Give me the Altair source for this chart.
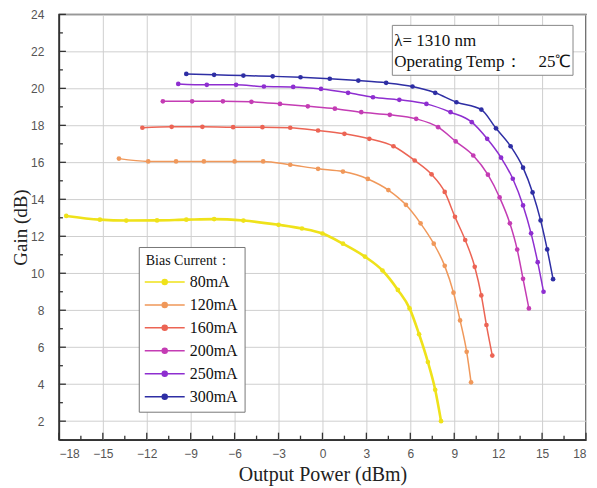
import altair as alt
import pandas as pd

currents = ["80mA", "120mA", "160mA", "200mA", "250mA", "300mA"]
colors = ["#efe21a", "#f0985a", "#ec6454", "#c43cb4", "#8e2ed0", "#2e2ea4"]

x_80 = [-17.5, -15.2, -13.4, -11.3, -9.3, -7.4, -5.4, -3.0, -1.4, 0.0, 1.4, 2.9, 4.1, 5.15, 5.95, 6.6, 7.2, 7.7, 8.1]
y_80 = [13.1, 12.9, 12.85, 12.86, 12.9, 12.93, 12.85, 12.62, 12.42, 12.15, 11.6, 10.9, 10.15, 9.1, 8.1, 6.7, 5.2, 3.7, 2.0]

x_120 = [-13.9, -11.9, -10.0, -8.1, -6.0, -4.05, -2.2, -0.3, 1.4, 3.1, 4.5, 5.7, 6.7, 7.6, 8.35, 8.95, 9.4, 9.85, 10.15]
y_120 = [16.2, 16.05, 16.05, 16.05, 16.05, 16.05, 15.87, 15.65, 15.5, 15.1, 14.5, 13.7, 12.7, 11.6, 10.4, 8.95, 7.45, 5.75, 4.1]

x_160 = [-12.3, -10.3, -8.2, -6.1, -4.1, -2.2, -0.3, 1.5, 3.2, 4.85, 6.3, 7.45, 8.35, 9.05, 9.75, 10.4, 10.85, 11.2, 11.6]
y_160 = [17.87, 17.92, 17.92, 17.9, 17.9, 17.87, 17.72, 17.54, 17.27, 16.87, 16.1, 15.35, 14.4, 13.05, 11.8, 10.35, 8.8, 7.2, 5.55]

x_200 = [-10.9, -8.9, -6.8, -4.85, -2.9, -1.0, 0.85, 2.65, 4.6, 6.4, 7.9, 9.1, 10.3, 11.3, 12.1, 12.8, 13.3, 13.7, 14.1]
y_200 = [19.3, 19.3, 19.3, 19.27, 19.16, 19.03, 18.9, 18.71, 18.57, 18.35, 17.9, 17.13, 16.37, 15.33, 14.1, 12.7, 11.28, 9.7, 8.1]

x_250 = [-9.85, -7.9, -5.9, -4.0, -2.0, -0.1, 1.75, 3.45, 5.25, 7.1, 8.75, 10.2, 11.25, 12.2, 13.0, 13.7, 14.25, 14.7, 15.1]
y_250 = [20.24, 20.19, 20.19, 20.1, 20.08, 19.97, 19.76, 19.52, 19.38, 19.16, 18.71, 18.17, 17.27, 16.25, 15.11, 13.67, 12.16, 10.6, 9.0]

x_300 = [-9.3, -7.4, -5.4, -3.4, -1.5, 0.5, 2.45, 4.35, 6.15, 7.7, 9.15, 10.85, 11.85, 12.85, 13.7, 14.35, 14.9, 15.35, 15.75]
y_300 = [20.78, 20.73, 20.69, 20.65, 20.6, 20.52, 20.42, 20.3, 20.1, 19.76, 19.25, 18.85, 17.84, 16.87, 15.71, 14.37, 12.86, 11.29, 9.68]

x_ticks = [-18, -15, -12, -9, -6, -3, 0, 3, 6, 9, 12, 15, 18]
x_minor = [-16.5, -13.5, -10.5, -7.5, -4.5, -1.5, 1.5, 4.5, 7.5, 10.5, 13.5, 16.5]
y_ticks = [2, 4, 6, 8, 10, 12, 14, 16, 18, 20, 22, 24]
y_minor = [1, 3, 5, 7, 9, 11, 13, 15, 17, 19, 21, 23]

note_line1 = "λ= 1310 nm"
note_line2 = "Operating Temp：\u2002\u200225℃"

series = [x_80, x_120, x_160, x_200, x_250, x_300]
series_y = [y_80, y_120, y_160, y_200, y_250, y_300]
rows = []
for c, xs, ys in zip(currents, series, series_y):
    for i, (a, b) in enumerate(zip(xs, ys)):
        rows.append({"current": c, "power": a, "gain": b, "order": i})
df = pd.DataFrame(rows)

W, H = 528, 426
xscale = alt.Scale(domain=[-18, 18], nice=False, zero=False)
yscale = alt.Scale(domain=[1, 24], nice=False, zero=False)
serif = "Liberation Serif"
sans = "Liberation Sans"

color = alt.Color(
    "current:N",
    scale=alt.Scale(domain=currents, range=colors),
    sort=currents,
    legend=alt.Legend(title="Bias Current：", orient="none", legendX=80, legendY=233),
)

xaxis = alt.Axis(values=x_ticks, title="Output Power (dBm)", grid=True, gridColor="#cfcfcf",
                 tickSize=0, labelPadding=9, labelFont=sans, labelFontSize=12, labelColor="#555",
                 labelOverlap=False,
                 titleFont=serif, titleFontSize=20, titleFontWeight="normal", titleColor="#222",
                 titlePadding=5, domainColor="#333", domainWidth=1.5)
yaxis = alt.Axis(values=y_ticks, title="Gain (dB)", grid=True, gridColor="#cfcfcf",
                 tickSize=0, labelPadding=15, labelFont=sans, labelFontSize=12, labelColor="#555",
                 labelOverlap=False,
                 titleFont=serif, titleFontSize=19, titleFontWeight="normal", titleColor="#222",
                 titlePadding=0, domainColor="#333", domainWidth=1.5)

base = alt.Chart(df)
lines = base.mark_line(interpolate="monotone").encode(
    x=alt.X("power:Q", scale=xscale, axis=xaxis),
    y=alt.Y("gain:Q", scale=yscale, axis=yaxis),
    color=color,
    order="order:Q",
    strokeWidth=alt.condition(alt.datum.current == "80mA", alt.value(2.6), alt.value(1.5)),
)
points = base.mark_point(filled=True, size=22, opacity=1).encode(
    x=alt.X("power:Q", scale=xscale, axis=xaxis),
    y=alt.Y("gain:Q", scale=yscale, axis=yaxis),
    color=color,
)

xt = pd.DataFrame({"v": x_ticks})
xm = pd.DataFrame({"v": x_minor})
yt = pd.DataFrame({"v": y_ticks})
ym = pd.DataFrame({"v": y_minor})
tick_col = "#333"
xt_major = alt.Chart(xt).mark_rule(color=tick_col, strokeWidth=1.3).encode(
    x=alt.X("v:Q", scale=xscale, axis=xaxis), y=alt.value(H), y2=alt.value(H - 7))
xt_minor = alt.Chart(xm).mark_rule(color=tick_col, strokeWidth=1.3).encode(
    x=alt.X("v:Q", scale=xscale, axis=xaxis), y=alt.value(H), y2=alt.value(H - 4))
yt_major = alt.Chart(yt).mark_rule(color=tick_col, strokeWidth=1.3).encode(
    y=alt.Y("v:Q", scale=yscale, axis=yaxis), x=alt.value(0), x2=alt.value(7))
yt_minor = alt.Chart(ym).mark_rule(color=tick_col, strokeWidth=1.3).encode(
    y=alt.Y("v:Q", scale=yscale, axis=yaxis), x=alt.value(0), x2=alt.value(4))

one = pd.DataFrame({"a": [0]})
box = alt.Chart(one).mark_rect(
    fill="white", stroke="#888", strokeWidth=1).encode(
    x=alt.value(334), x2=alt.value(515), y=alt.value(11), y2=alt.value(61))
note1 = alt.Chart(one).mark_text(
    font=serif, fontSize=17, align="left", baseline="middle", color="#111", text=note_line1).encode(
    x=alt.value(336), y=alt.value(27))
note2 = alt.Chart(one).mark_text(
    font=serif, fontSize=17, align="left", baseline="middle", color="#111", text=note_line2).encode(
    x=alt.value(336), y=alt.value(48))

chart = alt.layer(
    lines, points, xt_major, xt_minor, yt_major, yt_minor, box, note1, note2
).properties(
    width=W, height=H,
    autosize=alt.AutoSizeParams(type="none"),
    padding={"left": 51, "top": 6, "right": 3, "bottom": 46},
).configure_view(
    stroke="#444", strokeWidth=1.5
).configure_axis(
    labelOverlap=False
).configure_legend(
    symbolType="M-4,0H4M0.5,0A0.5,0.5,0,1,1,-0.5,0A0.5,0.5,0,1,1,0.5,0",
    symbolSize=100, symbolStrokeWidth=1.5, symbolOffset=11,
    labelFont=serif, labelFontSize=16, labelColor="#111", labelOffset=17,
    titleFont=serif, titleFontSize=14, titleFontWeight="normal", titleColor="#111",
    titlePadding=6,
    strokeColor="#777", fillColor="white", padding=7, rowPadding=7,
)

chart.save("out.html", embed_options={"renderer": "svg", "actions": False})
